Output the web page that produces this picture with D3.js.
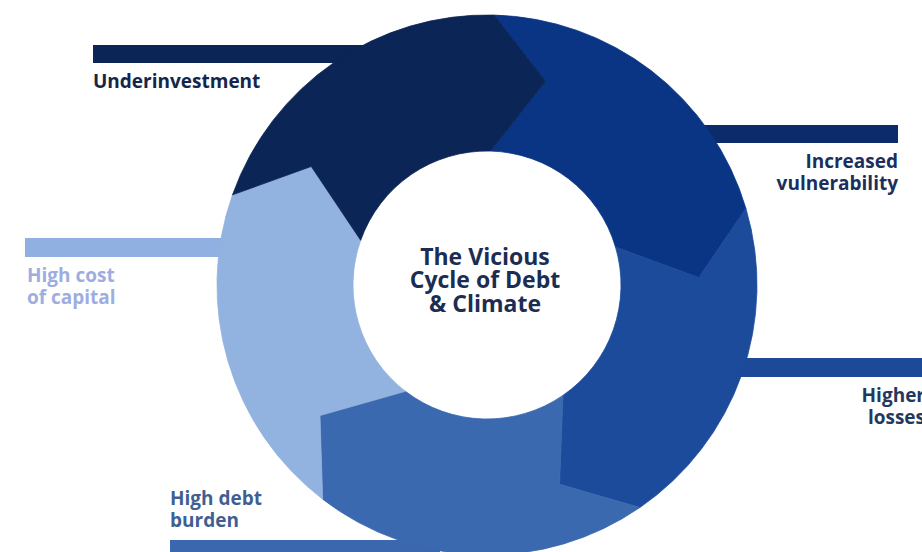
<!DOCTYPE html>
<html>
<head>
<meta charset="utf-8">
<script src="https://cdn.jsdelivr.net/npm/d3@7"></script>
<style>
  html, body { margin: 0; padding: 0; background: #ffffff; }
  svg { display: block; }
  text { font-family: "Open Sans", "Noto Sans", sans-serif; font-weight: 700; }
</style>
</head>
<body>
<svg id="chart" width="922" height="552"></svg>
<script>
// Stages of the cycle, clockwise from the top
const stages = ["Increased vulnerability", "Higher losses", "High debt burden", "High cost of capital", "Underinvestment"];
const shares = [1, 1, 1, 1, 1];
const labelLines = [["Increased", "vulnerability"], ["Higher", "losses"], ["High debt", "burden"], ["High cost", "of capital"], ["Underinvestment"]];
const centerTitle = ["The Vicious", "Cycle of Debt", "& Climate"];

// Styling
const segmentColors = ["#0a3585", "#1c4b9b", "#3b69b0", "#92b2e0", "#0b2556"];
const barColors     = ["#0b2b6b", "#1c4a98", "#3a67ae", "#8fb0e1", "#0b2556"];
const textColors    = ["#1b2f5c", "#24385e", "#3f5f92", "#9eaddf", "#15264b"];

const W = 922, H = 552;
const cx = 487, cy = 285;
const rOuter = 270, rInner = 134, rTip = 212;
const deg = Math.PI / 180;
const tipSpan = 14.5 * deg;
const offset = 1.5 * deg;

// Label placement: text anchor, anchor x, first baseline, bar band
const labelLayout = [
  { anchor: "end",   x: 898, y: 168, barY: 125, barH: 18, barX0: 600, barX1: 898 },
  { anchor: "end",   x: 925, y: 402, barY: 358, barH: 19, barX0: 640, barX1: 930 },
  { anchor: "start", x: 170, y: 505, barY: 540, barH: 20, barX0: 170, barX1: 440 },
  { anchor: "start", x: 27,  y: 282, barY: 238, barH: 19, barX0: 25,  barX1: 300 },
  { anchor: "start", x: 93,  y: 88,  barY: 45,  barH: 18, barX0: 93,  barX1: 420 }
];
const labelLeading = 22;

const svg = d3.select("#chart");

const pie = d3.pie().sort(null).value(d => d)
  .startAngle(offset).endAngle(offset + 2 * Math.PI);
const arcs = pie(shares);

// Connector bars sit beneath the ring
svg.append("g").selectAll("rect")
  .data(labelLayout)
  .join("rect")
  .attr("x", d => d.barX0)
  .attr("y", d => d.barY)
  .attr("width", d => d.barX1 - d.barX0)
  .attr("height", d => d.barH)
  .attr("fill", (d, i) => barColors[i]);

// Chevron-shaped ring segment: pointed head at the end, notch at the start
function chevron(d) {
  const p = d3.path();
  const a0 = d.startAngle, a1 = d.endAngle;
  const pt = (r, a) => [r * Math.sin(a), -r * Math.cos(a)];
  const o0 = pt(rOuter, a0);
  p.moveTo(o0[0], o0[1]);
  p.arc(0, 0, rOuter, a0 - Math.PI / 2, a1 - Math.PI / 2, false);
  const head = pt(rTip, a1 + tipSpan);
  p.lineTo(head[0], head[1]);
  const i1 = pt(rInner, a1);
  p.lineTo(i1[0], i1[1]);
  p.arc(0, 0, rInner, a1 - Math.PI / 2, a0 - Math.PI / 2, true);
  const notch = pt(rTip, a0 + tipSpan);
  p.lineTo(notch[0], notch[1]);
  p.closePath();
  return p.toString();
}

const ring = svg.append("g").attr("transform", `translate(${cx},${cy})`);
ring.selectAll("path")
  .data(arcs)
  .join("path")
  .attr("d", chevron)
  .attr("fill", (d, i) => segmentColors[i])
  .attr("stroke", (d, i) => segmentColors[i])
  .attr("stroke-width", 0.8)
  .append("title").text((d, i) => stages[i]);

// Stage labels, one text element per line
const labels = svg.append("g");
labelLayout.forEach((l, i) => {
  labelLines[i].forEach((line, k) => {
    labels.append("text")
      .attr("x", l.x).attr("y", l.y + k * labelLeading)
      .attr("text-anchor", l.anchor)
      .attr("fill", textColors[i])
      .attr("font-size", 19)
      .text(line);
  });
});

// Title in the hole of the ring
const titleBaselines = [265, 288, 312];
svg.append("g").selectAll("text")
  .data(centerTitle)
  .join("text")
  .attr("x", cx - 2)
  .attr("y", (d, k) => titleBaselines[k])
  .attr("text-anchor", "middle")
  .attr("fill", "#1b2d52")
  .attr("font-size", 23)
  .text(d => d);
</script>
</body>
</html>
